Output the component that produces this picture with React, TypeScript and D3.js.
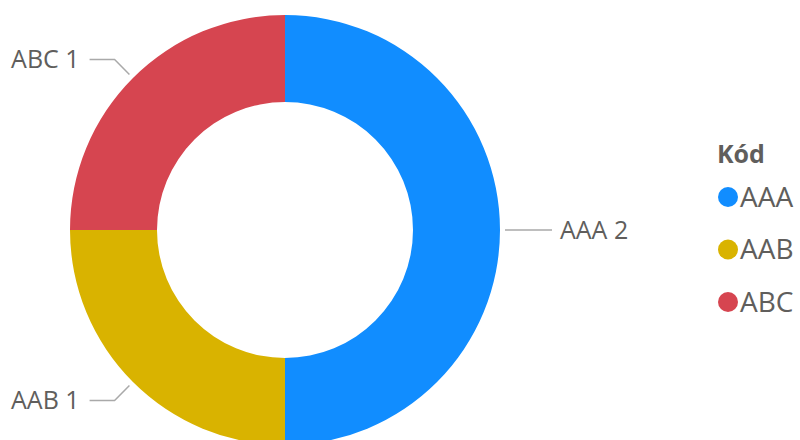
import React from "react";
import * as d3 from "d3";

const categories = ["AAA", "AAB", "ABC"];
const values = [2, 1, 1];
const colors = ["#118DFF", "#D9B300", "#D64550"];
const legendTitle = "Kód";

const W = 800;
const H = 440;
const cx = 285;
const cy = 230;
const outerR = 215;
const innerR = 128;
const FONT = "'Open Sans', 'Noto Sans', sans-serif";
const textColor = "#605E5C";

export default function App() {
  const data = categories.map((c, i) => ({ cat: c, value: values[i], color: colors[i] }));
  const pie = d3.pie<any>().value((d) => d.value).sort(null);
  const arcs = pie(data);
  const arc = d3.arc<any>().innerRadius(innerR).outerRadius(outerR);
  const startArc = d3.arc<any>().innerRadius(outerR + 5).outerRadius(outerR + 5);
  const elbowArc = d3.arc<any>().innerRadius(outerR + 26).outerRadius(outerR + 26);
  const legendY = d3.scalePoint<string>().domain(categories).range([197, 302]);

  return (
    <svg width={W} height={H} style={{ position: "absolute", left: 0, top: 0 }}>
      <g transform={`translate(${cx},${cy})`}>
        {arcs.map((a, i) => (
          <path key={i} d={arc(a) as string} fill={a.data.color} />
        ))}
        {arcs.map((a, i) => {
          const p0 = startArc.centroid(a);
          const p1 = elbowArc.centroid(a);
          const mid = (a.startAngle + a.endAngle) / 2;
          const right = Math.sin(mid) > 0;
          const p2 = [p1[0] + (right ? 26 : -25), p1[1]];
          const tx = p2[0] + (right ? 8 : -10);
          return (
            <g key={"l" + i}>
              <polyline
                points={[p0, p1, p2].map((p) => p.join(",")).join(" ")}
                fill="none"
                stroke="#A9A9A9"
                strokeWidth={1.5}
              />
              <text
                x={tx}
                y={p2[1]}
                dy="0.35em"
                textAnchor={right ? "start" : "end"}
                fontFamily={FONT}
                fontSize={25}
                fill={textColor}
              >
                {`${a.data.cat} ${a.data.value}`}
              </text>
            </g>
          );
        })}
      </g>
      <text x={717} y={163} fontFamily={FONT} fontSize={25} fontWeight="bold" fill={textColor}>
        {legendTitle}
      </text>
      {categories.map((c, i) => (
        <g key={"lg" + i}>
          <circle cx={728} cy={legendY(c)} r={10} fill={colors[i]} />
          <text
            x={740}
            y={legendY(c)}
            dy="0.35em"
            fontFamily={FONT}
            fontSize={28}
            fill={textColor}
          >
            {c}
          </text>
        </g>
      ))}
    </svg>
  );
}
